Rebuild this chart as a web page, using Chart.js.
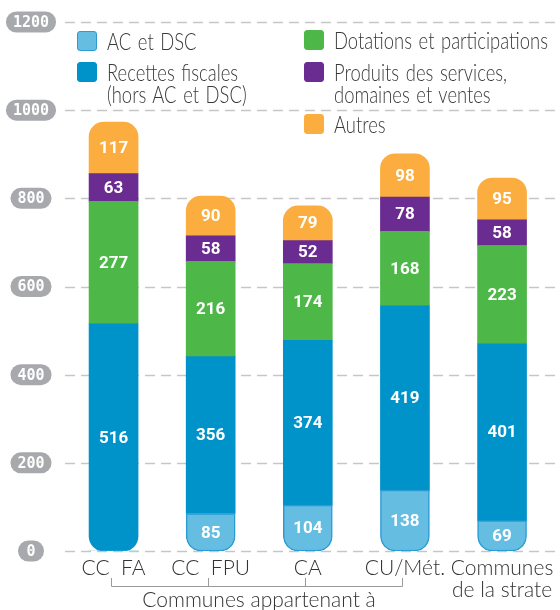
<!DOCTYPE html>
<html>
<head>
<meta charset="utf-8">
<script src="https://cdn.jsdelivr.net/npm/chart.js@4.4.1/dist/chart.umd.min.js"></script>
<style>
  html, body { margin: 0; padding: 0; background: #fff; }
  #wrap { position: relative; width: 560px; height: 610px; }
  .leg { position: absolute; font-family: Lato, sans-serif; font-weight: 300; font-size: 23px; line-height: 22px; color: #3a3a3a; white-space: nowrap; word-spacing: 2px; transform-origin: 0 0; transform: scaleX(0.8); }
  .sw { position: absolute; width: 20px; height: 20px; border-radius: 3px; box-sizing: border-box; }
</style>
</head>
<body>
<div id="wrap"><canvas id="myChart"></canvas><div id="legend"></div></div>
<script>
// datos
const categorias = ['CC  FA', 'CC  FPU', 'CA', 'CU/Mét.', ['Communes', 'de la strate']];
const acDsc = [0, 85, 104, 138, 69];
const recettes = [516, 356, 374, 419, 401];
const dotations = [277, 216, 174, 168, 223];
const produits = [63, 58, 52, 78, 58];
const autres = [117, 90, 79, 98, 95];
const ticksY = [0, 200, 400, 600, 800, 1000, 1200];
const nombres = [['AC et DSC'], ['Recettes fiscales', '(hors AC et DSC)'], ['Dotations et participations'], ['Produits des services,', 'domaines et ventes'], ['Autres']];
const grupoTexto = 'Communes appartenant à';
const grupoIndices = [0, 1, 2, 3];

const series = [acDsc, recettes, dotations, produits, autres];
const colores = ['#66bde2', '#0093c9', '#4db848', '#6b2c91', '#fbad3f'];
const bordes = ['#2a9bd5', '#0093c9', '#4db848', '#6b2c91', '#fbad3f'];

// legend (html)
const legPos = [[77, 31], [77, 62], [304, 30], [304, 62], [304, 114]];
const legend = document.getElementById('legend');
nombres.forEach((n, k) => {
    const sw = document.createElement('div');
    sw.className = 'sw';
    sw.style.left = legPos[k][0] + 'px';
    sw.style.top = legPos[k][1] + 'px';
    sw.style.background = colores[k];
    sw.style.border = '1px solid ' + bordes[k];
    legend.appendChild(sw);
    const t = document.createElement('div');
    t.className = 'leg';
    t.style.left = (legPos[k][0] + 30) + 'px';
    t.style.top = (legPos[k][1] - 1) + 'px';
    t.innerHTML = n.join('<br>');
    legend.appendChild(t);
});

function radio(c) {
    const i = c.dataIndex, d = c.datasetIndex;
    const vals = series.map(s => s[i]);
    const first = vals.findIndex(v => v > 0);
    let last = -1;
    vals.forEach((v, k) => { if (v > 0) last = k; });
    const r = 15;
    return {
        topLeft: d === last ? r : 0, topRight: d === last ? r : 0,
        bottomLeft: d === first ? r : 0, bottomRight: d === first ? r : 0
    };
}

const fondo = {
    id: 'fondo',
    beforeDatasetsDraw(chart) {
        const ctx = chart.ctx, y = chart.scales.y;
        ctx.save();
        ctx.strokeStyle = '#c6c6c6';
        ctx.lineWidth = 1.5;
        ctx.setLineDash([10, 6]);
        ticksY.forEach(v => {
            const py = Math.round(y.getPixelForValue(v)) + 0.5;
            ctx.beginPath();
            ctx.moveTo(65, py);
            ctx.lineTo(560, py);
            ctx.stroke();
        });
        ctx.setLineDash([]);
        // pills
        ctx.font = 'bold 15px "DejaVu Sans Mono"';
        ctx.textAlign = 'center';
        ctx.textBaseline = 'middle';
        ticksY.forEach(v => {
            const py = y.getPixelForValue(v);
            const txt = String(v);
            const w = Math.max(26, ctx.measureText(txt).width + 14);
            ctx.fillStyle = '#a7a9ac';
            ctx.beginPath();
            ctx.roundRect(31 - w / 2, py - 10.5, w, 21, 10.5);
            ctx.fill();
            ctx.fillStyle = '#fff';
            ctx.fillText(txt, 31, py + 1);
        });
        ctx.restore();
    },
    afterDatasetsDraw(chart) {
        const ctx = chart.ctx;
        ctx.save();
        ctx.font = 'bold 17px "Liberation Sans Narrow", Roboto, sans-serif';
        ctx.fillStyle = '#fff';
        ctx.textAlign = 'center';
        ctx.textBaseline = 'middle';
        chart.data.datasets.forEach((ds, d) => {
            chart.getDatasetMeta(d).data.forEach((el, i) => {
                const v = ds.data[i];
                if (v > 0) ctx.fillText(String(v), el.x, (el.y + el.base) / 2 + 1);
            });
        });
        // bracket
        const x = chart.scales.x;
        const xs = grupoIndices.map(i => Math.round(x.getPixelForValue(i)) - 2.5);
        ctx.strokeStyle = '#9a9a9a';
        ctx.lineWidth = 1;
        ctx.beginPath();
        ctx.moveTo(xs[0], 586.5);
        ctx.lineTo(xs[xs.length - 1], 586.5);
        xs.forEach(px => { ctx.moveTo(px, 578); ctx.lineTo(px, 586.5); });
        ctx.stroke();
        ctx.font = '300 21px Lato, sans-serif';
        ctx.fillStyle = '#333';
        ctx.textBaseline = 'alphabetic';
        ctx.fillText(grupoTexto, (xs[0] + xs[xs.length - 1]) / 2 + 2, 607);
        ctx.restore();
    }
};

const ctx = document.getElementById('myChart');
const myChart = new Chart(ctx, {
    type: 'bar',
    data: {
        labels: categorias,
        datasets: series.map((s, k) => ({
            label: nombres[k].join(' '),
            data: s,
            backgroundColor: colores[k],
            borderColor: bordes[k],
            borderWidth: c => (k === 0 && c.raw > 0 ? 1.5 : 0),
            borderRadius: radio,
            borderSkipped: false,
            barThickness: 49
        }))
    },
    options: {
        responsive: true,
        maintainAspectRatio: false,
        animation: false,
        layout: { padding: { left: 65, right: 7, top: 22, bottom: 0 } },
        plugins: { legend: { display: false }, tooltip: { enabled: false } },
        scales: {
            x: {
                stacked: true,
                grid: { display: false, drawTicks: false },
                border: { display: false },
                ticks: { color: '#333', font: { family: 'Lato', weight: 300, size: 21, lineHeight: 1.05 }, padding: 6, maxRotation: 0, autoSkip: false },
                afterFit: s => { s.height = 59; }
            },
            y: { stacked: true, display: false, min: 0, max: 1200, ticks: { stepSize: 200 } }
        }
    },
    plugins: [fondo]
});
</script>
</body>
</html>
